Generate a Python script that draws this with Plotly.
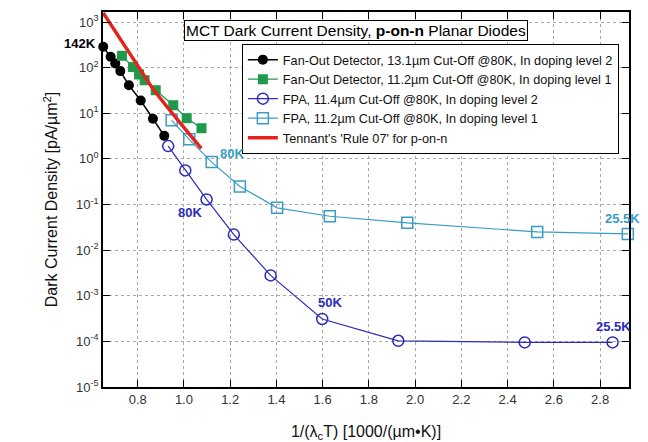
import math
import plotly.graph_objects as go

# ---- data ----
fan131_x = [0.651, 0.683, 0.703, 0.725, 0.762, 0.813, 0.866, 0.915]
fan131_y = [287, 173, 124, 84, 41, 19, 7.6, 3.2]

fan112_x = [0.732, 0.780, 0.806, 0.830, 0.878, 0.954, 1.012, 1.076]
fan112_y = [182, 103, 71, 53, 32, 15, 7.8, 4.7]

fpa114_x = [0.932, 1.006, 1.098, 1.216, 1.375, 1.598, 1.927, 2.474, 2.854]
fpa114_y = [1.91, 0.56, 0.129, 0.0219, 0.00279, 3.1e-4, 1.03e-4, 9.5e-5, 9.5e-5]

fpa112_x = [0.947, 1.023, 1.120, 1.242, 1.403, 1.631, 1.966, 2.528, 2.920]
fpa112_y = [7.0, 2.68, 0.85, 0.249, 0.0846, 0.0553, 0.0396, 0.0251, 0.0227]

rule07_x = [0.651, 0.810, 0.867, 1.075]
rule07_y = [1580, 93, 34, 1.7]

names = [
    "Fan-Out Detector, 13.1µm Cut-Off @80K, In doping level 2",
    "Fan-Out Detector, 11.2µm Cut-Off @80K, In doping level 1",
    "FPA, 11.4µm Cut-Off @80K, In doping level 2",
    "FPA, 11.2µm Cut-Off @80K, In doping level 1",
    "Tennant's 'Rule 07' for p-on-n",
]

y_tickvals = [1e-5, 1e-4, 1e-3, 1e-2, 1e-1, 1e0, 1e1, 1e2, 1e3]
y_ticktext = ["10<sup>-5</sup>", "10<sup>-4</sup>", "10<sup>-3</sup>", "10<sup>-2</sup>",
              "10<sup>-1</sup>", "10<sup>0</sup>", "10<sup>1</sup>", "10<sup>2</sup>", "10<sup>3</sup>"]
x_tickvals = [0.8, 1.0, 1.2, 1.4, 1.6, 1.8, 2.0, 2.2, 2.4, 2.6, 2.8]
x_ticktext = ["0.8", "1.0", "1.2", "1.4", "1.6", "1.8", "2.0", "2.2", "2.4", "2.6", "2.8"]

BLACK = "#000000"
GREEN = "#1f9a4c"
BLUE = "#2b2bb8"
CYAN = "#3a9cc4"
RED = "#e3231c"

fig = go.Figure()
fig.add_trace(go.Scatter(x=fan131_x, y=fan131_y, name=names[0], mode="lines+markers",
                         line=dict(color=BLACK, width=1.5),
                         marker=dict(symbol="circle", size=10, color=BLACK), cliponaxis=False))
fig.add_trace(go.Scatter(x=fan112_x, y=fan112_y, name=names[1], mode="lines+markers",
                         line=dict(color=GREEN, width=1.2),
                         marker=dict(symbol="square", size=10, color=GREEN), cliponaxis=False))
fig.add_trace(go.Scatter(x=fpa114_x, y=fpa114_y, name=names[2], mode="lines+markers",
                         line=dict(color=BLUE, width=1.2),
                         marker=dict(symbol="circle-open", size=11, color=BLUE, line=dict(width=1.5)),
                         cliponaxis=False))
fig.add_trace(go.Scatter(x=fpa112_x, y=fpa112_y, name=names[3], mode="lines+markers",
                         line=dict(color=CYAN, width=1.2),
                         marker=dict(symbol="square-open", size=11, color=CYAN, line=dict(width=1.5)),
                         cliponaxis=False))
fig.add_trace(go.Scatter(x=rule07_x, y=rule07_y, name=names[4], mode="lines",
                         line=dict(color=RED, width=3.5, shape="spline")))

ann_font = dict(family="Liberation Sans, Arial", size=13)


def lbl(text, x, y, color, xanchor, xshift, yshift):
    return dict(text=text, x=x, y=math.log10(y), xref="x", yref="y", xanchor=xanchor,
                yanchor="middle", xshift=xshift, yshift=yshift, showarrow=False,
                font=dict(ann_font, color=color))


annotations = [
    dict(text="MCT Dark Current Density, <b>p-on-n</b> Planar Diodes", xref="paper", yref="paper",
         x=0.481, y=0.952, xanchor="center", yanchor="middle", showarrow=False,
         bordercolor="black", borderwidth=1, borderpad=1,
         bgcolor="white", font=dict(family="Liberation Sans, Arial", size=15.5, color="black")),
    lbl("<b>142K</b>", fan131_x[0], fan131_y[0], "black", "right", -5, 3),
    lbl("<b>80K</b>", fpa112_x[2], fpa112_y[2], CYAN, "left", 6, 9),
    lbl("<b>80K</b>", fpa114_x[2], fpa114_y[2], BLUE, "right", -3, -13),
    lbl("<b>50K</b>", fpa114_x[5], fpa114_y[5], BLUE, "center", 8, 16),
    lbl("<b>25.5K</b>", fpa112_x[-1], fpa112_y[-1], CYAN, "center", -5, 15),
    lbl("<b>25.5K</b>", fpa114_x[-1], fpa114_y[-1], BLUE, "center", 1, 16),
]

fig.update_layout(
    width=648, height=442,
    margin=dict(l=103, r=19, t=12, b=55),
    paper_bgcolor="white", plot_bgcolor="white",
    font=dict(family="Liberation Sans, Arial", size=13, color="#333333"),
    showlegend=True,
    legend=dict(x=0.264, y=0.915, xanchor="left", yanchor="top", bgcolor="white",
                bordercolor="black", borderwidth=1, tracegroupgap=0,
                font=dict(family="Liberation Sans, Arial", size=12.7, color="#111111"),
                itemwidth=30),
    annotations=annotations,
)

fig.update_xaxes(range=[0.65, 2.925], tickvals=x_tickvals, ticktext=x_ticktext, automargin=False,
                 showgrid=True, gridcolor="#aaaaaa", griddash="dot", gridwidth=1,
                 showline=True, linecolor="black", linewidth=1.5, mirror="allticks",
                 ticks="inside", ticklen=7, tickcolor="black", zeroline=False,
                 title=dict(text="1/(λ<sub>c</sub>T) [1000/(µm•K)]",
                            font=dict(size=16, color="#111111"), standoff=20))
fig.update_yaxes(type="log", range=[-5, 3.22], tickvals=y_tickvals, ticktext=y_ticktext,
                 automargin=False,
                 showgrid=True, gridcolor="#aaaaaa", griddash="dot", gridwidth=1,
                 showline=True, linecolor="black", linewidth=1.5, mirror="allticks",
                 ticks="inside", ticklen=7, tickcolor="black", zeroline=False,
                 title=dict(text="Dark Current Density [pA/µm<sup>2</sup>]",
                            font=dict(size=16, color="#111111"), standoff=14))

fig.write_html("out.html")
